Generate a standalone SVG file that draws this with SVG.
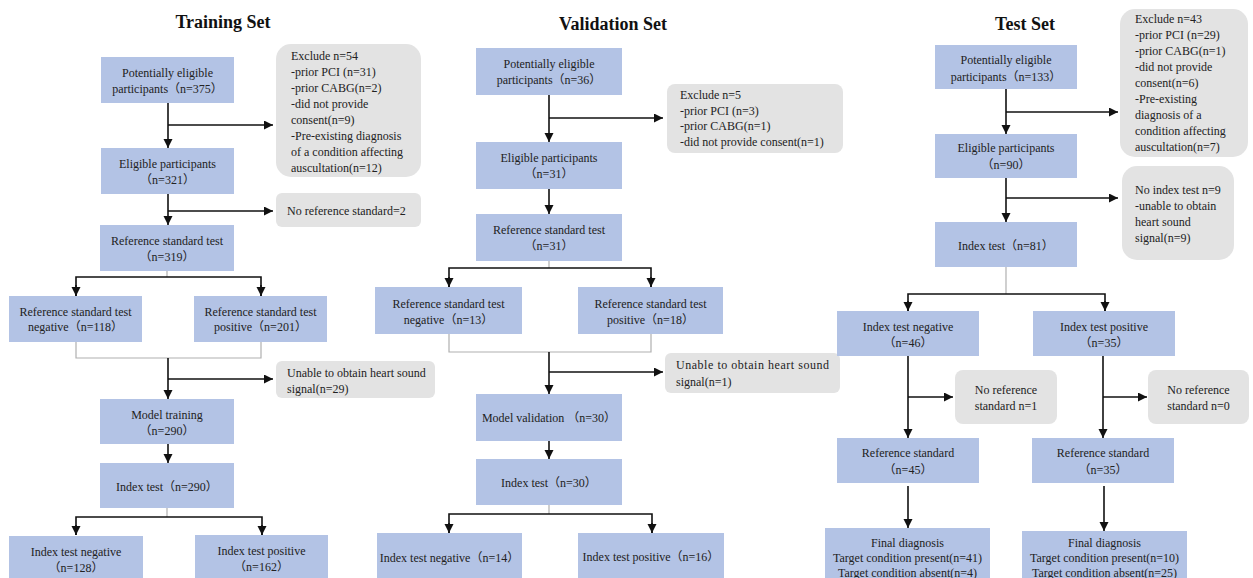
<svg xmlns="http://www.w3.org/2000/svg" width="1253" height="578" viewBox="0 0 1253 578">
<style>
.b{fill:#b3c3e5;}
.g{fill:#e3e3e3;}
text{font-family:"Liberation Serif","Noto Sans CJK SC",serif;font-size:12px;fill:#222;}
.c{text-anchor:middle;}
.t{font-size:18px;font-weight:bold;fill:#111;text-anchor:middle;}
.k{stroke:#111;stroke-width:1.6;fill:none;}
.a{stroke:#111;stroke-width:1.6;fill:none;marker-end:url(#ah);}
.l{stroke:#b0b0b0;stroke-width:1.2;fill:none;}
</style>
<defs>
<marker id="ah" markerUnits="userSpaceOnUse" markerWidth="10" markerHeight="10" refX="9" refY="4.5" orient="auto">
<path d="M0,0 L9,4.5 L0,9 z" fill="#111"/>
</marker>
</defs>
<rect width="1253" height="578" fill="#fff"/>
<text class="t" x="223" y="28">Training Set</text>
<text class="t" x="613" y="30">Validation Set</text>
<text class="t" x="1025" y="30">Test Set</text>

<g id="connectors">
<!-- training -->
<line class="a" x1="168" y1="103" x2="168" y2="148"/>
<line class="a" x1="168" y1="125" x2="273" y2="125"/>
<line class="a" x1="168" y1="194" x2="168" y2="225"/>
<line class="a" x1="168" y1="211" x2="273" y2="211"/>
<line class="l" x1="167" y1="271" x2="167" y2="277"/>
<polyline class="k" points="76,296 76,277 261,277 261,296"/>
<line class="a" x1="76" y1="285" x2="76" y2="296"/>
<line class="a" x1="261" y1="285" x2="261" y2="296"/>
<polyline class="l" points="76,342 76,358 261,358 261,342"/>
<line class="a" x1="168" y1="358" x2="168" y2="399"/>
<line class="a" x1="168" y1="379" x2="273" y2="379"/>
<line class="a" x1="168" y1="444" x2="168" y2="463"/>
<line class="l" x1="167" y1="508" x2="167" y2="517"/>
<polyline class="k" points="76,535 76,517 262,517 262,535"/>
<line class="a" x1="76" y1="525" x2="76" y2="535"/>
<line class="a" x1="262" y1="525" x2="262" y2="535"/>
<!-- validation -->
<line class="a" x1="549" y1="95" x2="549" y2="142"/>
<line class="a" x1="549" y1="118" x2="663" y2="118"/>
<line class="a" x1="549" y1="189" x2="549" y2="214"/>
<line class="l" x1="549" y1="261" x2="549" y2="268"/>
<polyline class="k" points="449,287 449,268 651,268 651,287"/>
<line class="a" x1="449" y1="277" x2="449" y2="287"/>
<line class="a" x1="651" y1="277" x2="651" y2="287"/>
<polyline class="l" points="449,334 449,352 651,352 651,334"/>
<line class="a" x1="549" y1="352" x2="549" y2="394"/>
<line class="a" x1="549" y1="372" x2="663" y2="372"/>
<line class="a" x1="549" y1="441" x2="549" y2="459"/>
<line class="l" x1="549" y1="505" x2="549" y2="514"/>
<polyline class="k" points="449,533 449,514 652,514 652,533"/>
<line class="a" x1="449" y1="523" x2="449" y2="533"/>
<line class="a" x1="652" y1="523" x2="652" y2="533"/>
<!-- test -->
<line class="a" x1="1006" y1="89" x2="1006" y2="134"/>
<line class="a" x1="1006" y1="112" x2="1118" y2="112"/>
<line class="a" x1="1006" y1="178" x2="1006" y2="222"/>
<line class="a" x1="1006" y1="198" x2="1118" y2="198"/>
<line class="l" x1="1006" y1="267" x2="1006" y2="294"/>
<polyline class="k" points="908,311 908,294 1105,294 1105,311"/>
<line class="a" x1="908" y1="301" x2="908" y2="311"/>
<line class="a" x1="1105" y1="301" x2="1105" y2="311"/>
<line class="a" x1="908" y1="356" x2="908" y2="438"/>
<line class="a" x1="908" y1="397" x2="953" y2="397"/>
<line class="a" x1="1103" y1="356" x2="1103" y2="438"/>
<line class="a" x1="1103" y1="397" x2="1147" y2="397"/>
<line class="a" x1="908" y1="486" x2="908" y2="528"/>
<line class="a" x1="1104" y1="486" x2="1104" y2="531"/>
</g>

<!-- Training nodes -->
<g id="tr-pot"><rect class="b" x="101" y="57" width="133" height="46"/><text class="c" x="167.5" y="77">Potentially eligible</text><text class="c" x="167.5" y="93">participants（n=375）</text></g>
<g id="tr-exc"><rect class="g" x="276" y="44" width="145" height="133" rx="15"/><text x="291" y="60">Exclude n=54</text><text x="291" y="76">-prior PCI (n=31)</text><text x="291" y="92">-prior CABG(n=2)</text><text x="291" y="108">-did not provide</text><text x="291" y="124">consent(n=9)</text><text x="291" y="140">-Pre-existing diagnosis</text><text x="291" y="156">of a condition affecting</text><text x="291" y="172">auscultation(n=12)</text></g>
<g id="tr-elig"><rect class="b" x="101" y="148" width="133" height="46"/><text class="c" x="167.5" y="168">Eligible participants</text><text class="c" x="167.5" y="184">（n=321）</text></g>
<g id="tr-noref"><rect class="g" x="276" y="193" width="145" height="34" rx="6"/><text x="287" y="215">No reference standard=2</text></g>
<g id="tr-ref"><rect class="b" x="100" y="225" width="134" height="46"/><text class="c" x="167" y="245">Reference standard test</text><text class="c" x="167" y="261">（n=319）</text></g>
<g id="tr-refneg"><rect class="b" x="9" y="296" width="133" height="46"/><text class="c" x="75.5" y="316">Reference standard test</text><text class="c" x="75.5" y="331">negative（n=118）</text></g>
<g id="tr-refpos"><rect class="b" x="194" y="296" width="133" height="46"/><text class="c" x="260.5" y="316">Reference standard test</text><text class="c" x="260.5" y="331">positive（n=201）</text></g>
<g id="tr-unable"><rect class="g" x="276" y="361" width="159" height="37" rx="6"/><text x="287" y="377">Unable to obtain heart sound</text><text x="287" y="393">signal(n=29)</text></g>
<g id="tr-model"><rect class="b" x="100" y="399" width="134" height="45"/><text class="c" x="167" y="419">Model training</text><text class="c" x="167" y="435">（n=290）</text></g>
<g id="tr-index"><rect class="b" x="100" y="463" width="134" height="45"/><text class="c" x="167" y="491">Index test（n=290）</text></g>
<g id="tr-ineg"><rect class="b" x="9" y="536" width="134" height="46"/><text class="c" x="76" y="556">Index test negative</text><text class="c" x="76" y="572">（n=128）</text></g>
<g id="tr-ipos"><rect class="b" x="195" y="535" width="133" height="47"/><text class="c" x="261.5" y="555">Index test positive</text><text class="c" x="261.5" y="571">（n=162）</text></g>

<!-- Validation nodes -->
<g id="va-pot"><rect class="b" x="476" y="48" width="146" height="47"/><text class="c" x="549" y="68">Potentially eligible</text><text class="c" x="549" y="84">participants（n=36）</text></g>
<g id="va-exc"><rect class="g" x="667" y="84" width="176" height="69" rx="8"/><text x="680" y="99">Exclude n=5</text><text x="680" y="114.5">-prior PCI (n=3)</text><text x="680" y="130">-prior CABG(n=1)</text><text x="680" y="145.5">-did not provide consent(n=1)</text></g>
<g id="va-elig"><rect class="b" x="476" y="142" width="146" height="47"/><text class="c" x="549" y="162">Eligible participants</text><text class="c" x="549" y="178">（n=31）</text></g>
<g id="va-ref"><rect class="b" x="476" y="214" width="146" height="47"/><text class="c" x="549" y="234">Reference standard test</text><text class="c" x="549" y="250">（n=31）</text></g>
<g id="va-refneg"><rect class="b" x="375" y="287" width="147" height="47"/><text class="c" x="448.5" y="308">Reference standard test</text><text class="c" x="448.5" y="324">negative（n=13）</text></g>
<g id="va-refpos"><rect class="b" x="578" y="287" width="145" height="47"/><text class="c" x="650.5" y="308">Reference standard test</text><text class="c" x="650.5" y="324">positive（n=18）</text></g>
<g id="va-unable"><rect class="g" x="665" y="353" width="175" height="40" rx="6"/><text x="676" y="369" textLength="153" lengthAdjust="spacing">Unable to obtain heart sound</text><text x="676" y="386">signal(n=1)</text></g>
<g id="va-model"><rect class="b" x="476" y="394" width="146" height="47"/><text class="c" x="549" y="422">Model validation （n=30）</text></g>
<g id="va-index"><rect class="b" x="476" y="459" width="146" height="46"/><text class="c" x="549" y="487">Index test（n=30）</text></g>
<g id="va-ineg"><rect class="b" x="377" y="533" width="145" height="49"/><text class="c" x="449.5" y="562">Index test negative（n=14）</text></g>
<g id="va-ipos"><rect class="b" x="578" y="533" width="146" height="49"/><text class="c" x="651" y="561">Index test positive（n=16）</text></g>

<!-- Test nodes -->
<g id="te-pot"><rect class="b" x="935" y="45" width="142" height="44"/><text class="c" x="1006" y="64">Potentially eligible</text><text class="c" x="1006" y="81">participants（n=133）</text></g>
<g id="te-exc"><rect class="g" x="1120" y="9" width="128" height="148" rx="15"/><text x="1135" y="23">Exclude n=43</text><text x="1135" y="39">-prior PCI (n=29)</text><text x="1135" y="55">-prior CABG(n=1)</text><text x="1135" y="71">-did not provide</text><text x="1135" y="87">consent(n=6)</text><text x="1135" y="103">-Pre-existing</text><text x="1135" y="119">diagnosis of a</text><text x="1135" y="135">condition affecting</text><text x="1135" y="151">auscultation(n=7)</text></g>
<g id="te-elig"><rect class="b" x="935" y="134" width="142" height="44"/><text class="c" x="1006" y="152">Eligible participants</text><text class="c" x="1006" y="169">（n=90）</text></g>
<g id="te-noidx"><rect class="g" x="1122" y="166" width="112" height="94" rx="15"/><text x="1135" y="194">No index test n=9</text><text x="1135" y="210">-unable to obtain</text><text x="1135" y="226">heart sound</text><text x="1135" y="242">signal(n=9)</text></g>
<g id="te-index"><rect class="b" x="935" y="222" width="142" height="45"/><text class="c" x="1006" y="250">Index test（n=81）</text></g>
<g id="te-ineg"><rect class="b" x="837" y="311" width="142" height="45"/><text class="c" x="908" y="331">Index test negative</text><text class="c" x="908" y="347">（n=46）</text></g>
<g id="te-ipos"><rect class="b" x="1033" y="311" width="142" height="45"/><text class="c" x="1104" y="331">Index test positive</text><text class="c" x="1104" y="347">（n=35）</text></g>
<g id="te-noref1"><rect class="g" x="955" y="370" width="102" height="54" rx="8"/><text class="c" x="1006" y="394">No reference</text><text class="c" x="1006" y="410">standard n=1</text></g>
<g id="te-noref2"><rect class="g" x="1148" y="370" width="101" height="54" rx="8"/><text class="c" x="1198.5" y="394">No reference</text><text class="c" x="1198.5" y="410">standard n=0</text></g>
<g id="te-refneg"><rect class="b" x="837" y="438" width="142" height="45"/><text class="c" x="908" y="457">Reference standard</text><text class="c" x="908" y="474">（n=45）</text></g>
<g id="te-refpos"><rect class="b" x="1032" y="438" width="142" height="45"/><text class="c" x="1103" y="457">Reference standard</text><text class="c" x="1103" y="474">（n=35）</text></g>
<g id="te-fneg"><rect class="b" x="825" y="528" width="165" height="54"/><text class="c" x="907.5" y="547">Final diagnosis</text><text class="c" x="907.5" y="562">Target condition present(n=41)</text><text class="c" x="907.5" y="577">Target condition absent(n=4)</text></g>
<g id="te-fpos"><rect class="b" x="1022" y="531" width="165" height="51"/><text class="c" x="1104.5" y="547">Final diagnosis</text><text class="c" x="1104.5" y="562">Target condition present(n=10)</text><text class="c" x="1104.5" y="577">Target condition absent(n=25)</text></g>
</svg>
